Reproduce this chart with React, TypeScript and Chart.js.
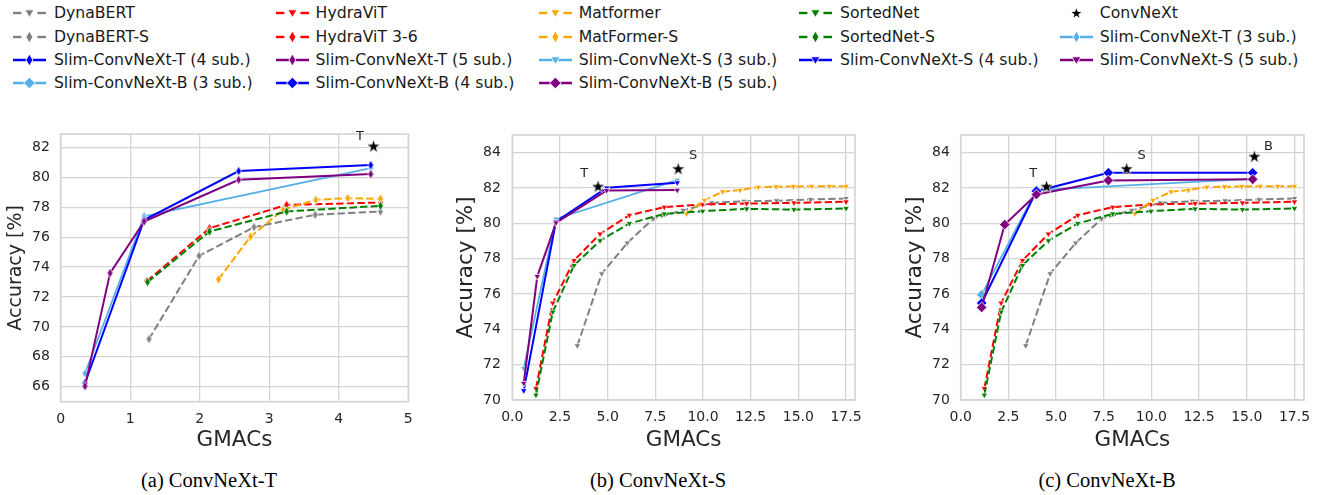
import React, { useEffect, useRef } from 'react';
import { Chart, registerables } from 'chart.js';

Chart.register(...registerables);
Chart.defaults.font.family = "'DejaVu Sans', sans-serif";

// ---------------- data: (a) ConvNeXt-T ----------------
const aDynaBertSX = [1.27, 1.99, 2.78, 3.66, 4.6];
const aDynaBertSY = [69.19, 74.75, 76.67, 77.5, 77.72];
const aHydra36X = [1.24, 2.14, 3.25, 4.6];
const aHydra36Y = [73.07, 76.6, 78.16, 78.32];
const aMatFormerSX = [2.27, 2.73, 3.2, 3.67, 4.13, 4.6];
const aMatFormerSY = [73.18, 76.04, 77.83, 78.5, 78.61, 78.57];
const aSortedSX = [1.25, 2.14, 3.25, 4.6];
const aSortedSY = [73.0, 76.38, 77.72, 78.1];
const aSlimT3X = [0.35, 1.2, 4.46];
const aSlimT3Y = [66.9, 77.4, 80.62];
const aSlimT4X = [0.35, 1.2, 2.56, 4.46];
const aSlimT4Y = [66.25, 77.15, 80.42, 80.82];
const aSlimT5X = [0.35, 0.71, 1.2, 2.56, 4.46];
const aSlimT5Y = [66.04, 73.6, 77.05, 79.84, 80.22];
const aStarX = [4.5];
const aStarY = [82.1];
const aStarLabels = ['T'];

// ---------------- data: baselines shared by (b) and (c) ----------------
const dynaX = [3.41, 4.69, 6.03, 7.39, 8.97, 10.46, 12.15, 13.86, 15.65, 17.5];
const dynaY = [73.08, 77.15, 78.89, 80.26, 80.74, 81.16, 81.25, 81.28, 81.35, 81.41];
const hydraX = [1.24, 2.12, 3.24, 4.6, 6.14, 7.97, 9.98, 12.29, 14.77, 17.5];
const hydraY = [70.66, 75.49, 77.9, 79.4, 80.46, 80.92, 81.07, 81.12, 81.16, 81.22];
const matX = [9.14, 10.07, 11.03, 11.94, 12.9, 13.83, 14.74, 15.7, 16.62, 17.5];
const matY = [80.54, 81.31, 81.79, 81.88, 82.05, 82.07, 82.09, 82.1, 82.1, 82.1];
const sortedX = [1.24, 2.12, 3.24, 4.6, 6.14, 7.97, 9.98, 12.29, 14.77, 17.5];
const sortedY = [70.28, 74.98, 77.62, 79.02, 79.99, 80.54, 80.69, 80.82, 80.78, 80.84];

// ---------------- data: (b) ConvNeXt-S ----------------
const bSlimS3X = [0.6, 2.29, 8.65];
const bSlimS3Y = [71.8, 80.25, 82.45];
const bSlimS4X = [0.6, 2.29, 4.95, 8.65];
const bSlimS4Y = [70.53, 80.1, 82.01, 82.3];
const bSlimS5X = [0.6, 1.31, 2.29, 4.95, 8.65];
const bSlimS5Y = [70.95, 77.0, 80.03, 81.86, 81.88];
const bStarX = [4.5, 8.7];
const bStarY = [82.1, 83.1];
const bStarLabels = ['T', 'S'];

// ---------------- data: (c) ConvNeXt-B ----------------
const cSlimB3X = [1.1, 3.97, 15.31];
const cSlimB3Y = [75.96, 81.88, 82.52];
const cSlimB4X = [1.1, 3.97, 7.74, 15.31];
const cSlimB4Y = [75.49, 81.82, 82.86, 82.86];
const cSlimB5X = [1.1, 2.31, 3.97, 7.74, 15.31];
const cSlimB5Y = [75.24, 79.93, 81.63, 82.43, 82.49];
const cStarX = [4.5, 8.7, 15.4];
const cStarY = [82.1, 83.1, 83.8];
const cStarLabels = ['T', 'S', 'B'];

// ---------------- styles ----------------
const GRID = '#d4d4d4';
const TXT = '#262626';
const COL = {
  gray: '#808080',
  red: '#ff0000',
  orange: '#ffa500',
  green: '#008000',
  light: '#56b0e8',
  blue: '#0000ff',
  purple: '#800080',
};

function makeThinDiamond(color: string) {
  const c = document.createElement('canvas');
  c.width = 9;
  c.height = 12;
  const g = c.getContext('2d')!;
  g.beginPath();
  g.moveTo(4.5, 1.2);
  g.lineTo(7.4, 6);
  g.lineTo(4.5, 10.8);
  g.lineTo(1.6, 6);
  g.closePath();
  g.fillStyle = color;
  g.fill();
  g.strokeStyle = '#ffffff';
  g.lineWidth = 0.8;
  g.stroke();
  return c;
}

function starPath(g: any, cx: number, cy: number, R: number) {
  const r = R * 0.39;
  g.beginPath();
  for (let i = 0; i < 10; i++) {
    const ang = -Math.PI / 2 + (i * Math.PI) / 5;
    const rad = i % 2 === 0 ? R : r;
    const px = cx + Math.cos(ang) * rad;
    const py = cy + Math.sin(ang) * rad;
    if (i === 0) g.moveTo(px, py);
    else g.lineTo(px, py);
  }
  g.closePath();
}

function makeStar(R: number) {
  const c = document.createElement('canvas');
  const s = Math.ceil(2 * R + 4);
  c.width = s;
  c.height = s;
  const g = c.getContext('2d')!;
  starPath(g, s / 2, s / 2 + 0.6, R);
  g.fillStyle = '#000000';
  g.fill();
  g.strokeStyle = '#ffffff';
  g.lineWidth = 0.8;
  g.stroke();
  return c;
}

function series(label: string, xs: number[], ys: number[], color: string, marker: string, dashed: boolean, lw: number) {
  const d: any = {
    label,
    data: xs.map((x, i) => ({ x, y: ys[i] })),
    showLine: marker !== '*',
    borderColor: color,
    backgroundColor: color,
    borderWidth: lw,
    borderDash: dashed ? [7.4, 3.2] : [],
    pointBackgroundColor: color,
    pointBorderColor: '#ffffff',
    pointBorderWidth: 0.8,
  };
  if (marker === 'v') {
    d.pointStyle = 'triangle';
    d.pointRotation = 180;
    d.pointRadius = 3.8;
  } else if (marker === 'D') {
    d.pointStyle = 'rectRot';
    d.pointRadius = 5.3;
  } else if (marker === 'd') {
    d.pointStyle = makeThinDiamond(color);
    d.pointRadius = 4;
  } else if (marker === '*') {
    d.pointStyle = makeStar(7.2);
    d.pointRadius = 7;
    d.borderWidth = 0;
  }
  return d;
}

function buildDatasets(key: string) {
  let list: any[] = [];
  if (key === 'a') {
    list = [
      series('DynaBERT-S', aDynaBertSX, aDynaBertSY, COL.gray, 'd', true, 2),
      series('HydraViT 3-6', aHydra36X, aHydra36Y, COL.red, 'd', true, 2),
      series('MatFormer-S', aMatFormerSX, aMatFormerSY, COL.orange, 'd', true, 2),
      series('SortedNet-S', aSortedSX, aSortedSY, COL.green, 'd', true, 2),
      series('Slim-ConvNeXt-T (3 sub.)', aSlimT3X, aSlimT3Y, COL.light, 'd', false, 1.8),
      series('Slim-ConvNeXt-T (4 sub.)', aSlimT4X, aSlimT4Y, COL.blue, 'd', false, 2),
      series('Slim-ConvNeXt-T (5 sub.)', aSlimT5X, aSlimT5Y, COL.purple, 'd', false, 2),
      series('ConvNeXt', aStarX, aStarY, '#000000', '*', false, 0),
    ];
  } else {
    list = [
      series('DynaBERT', dynaX, dynaY, COL.gray, 'v', true, 2),
      series('HydraViT', hydraX, hydraY, COL.red, 'v', true, 2),
      series('Matformer', matX, matY, COL.orange, 'v', true, 2),
      series('SortedNet', sortedX, sortedY, COL.green, 'v', true, 2),
    ];
    if (key === 'b') {
      list.push(
        series('Slim-ConvNeXt-S (3 sub.)', bSlimS3X, bSlimS3Y, COL.light, 'v', false, 1.8),
        series('Slim-ConvNeXt-S (4 sub.)', bSlimS4X, bSlimS4Y, COL.blue, 'v', false, 2),
        series('Slim-ConvNeXt-S (5 sub.)', bSlimS5X, bSlimS5Y, COL.purple, 'v', false, 2),
        series('ConvNeXt', bStarX, bStarY, '#000000', '*', false, 0),
      );
    } else {
      list.push(
        series('Slim-ConvNeXt-B (3 sub.)', cSlimB3X, cSlimB3Y, COL.light, 'D', false, 1.8),
        series('Slim-ConvNeXt-B (4 sub.)', cSlimB4X, cSlimB4Y, COL.blue, 'D', false, 2),
        series('Slim-ConvNeXt-B (5 sub.)', cSlimB5X, cSlimB5Y, COL.purple, 'D', false, 2),
        series('ConvNeXt', cStarX, cStarY, '#000000', '*', false, 0),
      );
    }
  }
  list.forEach((d, i) => (d.order = -i));
  return list;
}

const PANELS: any[] = [
  {
    key: 'a', left: 0, top: 120, W: 430, H: 345,
    area: { left: 60.7, right: 408.3, top: 14, bottom: 281.7 },
    xMin: 0, xMax: 5, xStep: 1, xDec: 0, yMin: 65.0, yMax: 82.9,
    yTitleSize: 19, yTitlePad: 4.6, yTickPad: 10.8, xTickPad: 8.9,
    starX: aStarX, starY: aStarY, starLabels: aStarLabels,
    labelOffsets: [[-13.5, -9.5]],
    caption: '(a) ConvNeXt-T', capX: 209,
  },
  {
    key: 'b', left: 440, top: 120, W: 440, H: 345,
    area: { left: 72.3, right: 415, top: 15, bottom: 280 },
    xMin: 0, xMax: 17.97, xStep: 2.5, xDec: 1, yMin: 70, yMax: 85,
    yTitleSize: 21.5, yTitlePad: 13.8, yTickPad: 11.5, xTickPad: 9.4,
    starX: bStarX, starY: bStarY, starLabels: bStarLabels,
    labelOffsets: [[-14, -12.7], [15, -13]],
    caption: '(b) ConvNeXt-S', capX: 658,
  },
  {
    key: 'c', left: 880, top: 120, W: 443, H: 345,
    area: { left: 80.7, right: 424, top: 15, bottom: 280 },
    xMin: 0, xMax: 18.0, xStep: 2.5, xDec: 1, yMin: 70, yMax: 85,
    yTitleSize: 21.5, yTitlePad: 22.9, yTickPad: 10.8, xTickPad: 9.4,
    starX: cStarX, starY: cStarY, starLabels: cStarLabels,
    labelOffsets: [[-13.4, -12.7], [15, -13], [14, -10]],
    caption: '(c) ConvNeXt-B', capX: 1107,
  },
];

function buildConfig(p: any): any {
  const framePlugin = {
    id: 'frame' + p.key,
    beforeDatasetsDraw(chart: any) {
      const { ctx, chartArea: a } = chart;
      ctx.save();
      ctx.strokeStyle = GRID;
      ctx.lineWidth = 1.6;
      ctx.strokeRect(a.left, a.top, a.right - a.left, a.bottom - a.top);
      ctx.restore();
    },
  };
  const starLabelPlugin = {
    id: 'starLabels' + p.key,
    afterDatasetsDraw(chart: any) {
      const { ctx } = chart;
      const xs = chart.scales.x;
      const ys = chart.scales.y;
      ctx.save();
      ctx.fillStyle = TXT;
      ctx.font = "13px 'DejaVu Sans'";
      ctx.textAlign = 'center';
      ctx.textBaseline = 'middle';
      p.starLabels.forEach((t: string, i: number) => {
        const px = xs.getPixelForValue(p.starX[i]) + p.labelOffsets[i][0];
        const py = ys.getPixelForValue(p.starY[i]) + p.labelOffsets[i][1];
        ctx.fillText(t, px, py);
      });
      ctx.restore();
    },
  };
  return {
    type: 'scatter',
    data: { datasets: buildDatasets(p.key) },
    options: {
      animation: false,
      responsive: false,
      devicePixelRatio: 1,
      events: [],
      layout: {
        autoPadding: false,
        padding: { left: 0, top: p.area.top, right: p.W - p.area.right, bottom: 0 },
      },
      plugins: { legend: { display: false }, tooltip: { enabled: false } },
      scales: {
        x: {
          type: 'linear',
          min: p.xMin,
          max: p.xMax,
          afterFit: (s: any) => {
            s.height = p.H - p.area.bottom;
            s.paddingLeft = 0;
            s.paddingRight = 0;
          },
          grid: { color: GRID, lineWidth: 1.3, drawTicks: false },
          border: { display: false },
          ticks: {
            stepSize: p.xStep,
            includeBounds: false,
            autoSkip: false,
            maxRotation: 0,
            padding: p.xTickPad,
            color: TXT,
            font: { size: 14 },
            callback: (v: any) => Number(v).toFixed(p.xDec),
          },
          title: {
            display: true,
            text: 'GMACs',
            color: TXT,
            font: { size: 21.5 },
            padding: { top: 0, bottom: 12.1 },
          },
        },
        y: {
          type: 'linear',
          min: p.yMin,
          max: p.yMax,
          afterFit: (s: any) => {
            s.width = p.area.left;
            s.paddingTop = 0;
            s.paddingBottom = 0;
          },
          grid: { color: GRID, lineWidth: 1.3, drawTicks: false },
          border: { display: false },
          ticks: {
            stepSize: 2,
            includeBounds: false,
            autoSkip: false,
            padding: p.yTickPad,
            color: TXT,
            font: { size: 14 },
            callback: (v: any) => String(Math.round(Number(v))),
          },
          title: {
            display: true,
            text: 'Accuracy [%]',
            color: TXT,
            font: { size: p.yTitleSize },
            padding: { top: p.yTitlePad, bottom: 0 },
          },
        },
      },
    },
    plugins: [framePlugin, starLabelPlugin],
  };
}

function Panel({ p }: { p: any }) {
  const ref = useRef<HTMLCanvasElement>(null);
  useEffect(() => {
    const chart = new Chart(ref.current as HTMLCanvasElement, buildConfig(p));
    return () => chart.destroy();
  }, []);
  return (
    <canvas
      ref={ref}
      width={p.W}
      height={p.H}
      style={{ position: 'absolute', left: p.left, top: p.top, width: p.W, height: p.H }}
    />
  );
}

// ---------------- legend ----------------
const LEGEND_GLYPH_X = [12.6, 275.7, 538.7, 799, 1059.5];
const LEGEND_TEXT_X = [53.9, 315.6, 578.7, 840, 1099.8];
const LEGEND_ROWS = [13.3, 36.7, 60.3, 83.3];
const LEGEND_ITEMS: any[] = [
  { label: 'DynaBERT', color: COL.gray, dashed: true, marker: 'v', col: 0, row: 0 },
  { label: 'DynaBERT-S', color: COL.gray, dashed: true, marker: 'd', col: 0, row: 1 },
  { label: 'Slim-ConvNeXt-T (4 sub.)', color: COL.blue, dashed: false, marker: 'd', col: 0, row: 2 },
  { label: 'Slim-ConvNeXt-B (3 sub.)', color: COL.light, dashed: false, marker: 'D', col: 0, row: 3 },
  { label: 'HydraViT', color: COL.red, dashed: true, marker: 'v', col: 1, row: 0 },
  { label: 'HydraViT 3-6', color: COL.red, dashed: true, marker: 'd', col: 1, row: 1 },
  { label: 'Slim-ConvNeXt-T (5 sub.)', color: COL.purple, dashed: false, marker: 'd', col: 1, row: 2 },
  { label: 'Slim-ConvNeXt-B (4 sub.)', color: COL.blue, dashed: false, marker: 'D', col: 1, row: 3 },
  { label: 'Matformer', color: COL.orange, dashed: true, marker: 'v', col: 2, row: 0 },
  { label: 'MatFormer-S', color: COL.orange, dashed: true, marker: 'd', col: 2, row: 1 },
  { label: 'Slim-ConvNeXt-S (3 sub.)', color: COL.light, dashed: false, marker: 'v', col: 2, row: 2 },
  { label: 'Slim-ConvNeXt-B (5 sub.)', color: COL.purple, dashed: false, marker: 'D', col: 2, row: 3 },
  { label: 'SortedNet', color: COL.green, dashed: true, marker: 'v', col: 3, row: 0 },
  { label: 'SortedNet-S', color: COL.green, dashed: true, marker: 'd', col: 3, row: 1 },
  { label: 'Slim-ConvNeXt-S (4 sub.)', color: COL.blue, dashed: false, marker: 'v', col: 3, row: 2 },
  { label: 'ConvNeXt', color: '#000000', dashed: false, marker: '*', col: 4, row: 0 },
  { label: 'Slim-ConvNeXt-T (3 sub.)', color: COL.light, dashed: false, marker: 'd', col: 4, row: 1 },
  { label: 'Slim-ConvNeXt-S (5 sub.)', color: COL.purple, dashed: false, marker: 'v', col: 4, row: 2 },
];

function starPoints(cx: number, cy: number, R: number) {
  const r = R * 0.39;
  const pts: string[] = [];
  for (let i = 0; i < 10; i++) {
    const ang = -Math.PI / 2 + (i * Math.PI) / 5;
    const rad = i % 2 === 0 ? R : r;
    pts.push(`${(cx + Math.cos(ang) * rad).toFixed(2)},${(cy + Math.sin(ang) * rad).toFixed(2)}`);
  }
  return pts.join(' ');
}

function Glyph({ item }: { item: any }) {
  const W = 33;
  const cx = 16.4;
  const cy = 9;
  let marker: any = null;
  if (item.marker === 'v') {
    marker = <polygon points={`${cx - 4.6},${cy - 3.2} ${cx + 4.6},${cy - 3.2} ${cx},${cy + 4.4}`} fill={item.color} stroke="#fff" strokeWidth={0.9} />;
  } else if (item.marker === 'd') {
    marker = <polygon points={`${cx},${cy - 6} ${cx + 3.5},${cy} ${cx},${cy + 6} ${cx - 3.5},${cy}`} fill={item.color} stroke="#fff" strokeWidth={0.9} />;
  } else if (item.marker === 'D') {
    marker = <polygon points={`${cx},${cy - 5.8} ${cx + 5.8},${cy} ${cx},${cy + 5.8} ${cx - 5.8},${cy}`} fill={item.color} stroke="#fff" strokeWidth={0.9} />;
  } else {
    marker = <polygon points={starPoints(cx, cy + 0.5, 5.2)} fill="#000" />;
  }
  let lines: any = null;
  if (item.marker !== '*') {
    lines = item.dashed ? (
      <>
        <line x1={0} y1={cy} x2={8.4} y2={cy} stroke={item.color} strokeWidth={2.4} />
        <line x1={24.4} y1={cy} x2={W} y2={cy} stroke={item.color} strokeWidth={2.4} />
      </>
    ) : (
      <line x1={0} y1={cy} x2={W} y2={cy} stroke={item.color} strokeWidth={2.4} />
    );
  }
  return (
    <svg
      width={W}
      height={18}
      style={{ position: 'absolute', left: LEGEND_GLYPH_X[item.col], top: LEGEND_ROWS[item.row] - 9 }}
    >
      {lines}
      {marker}
    </svg>
  );
}

function Legend() {
  return (
    <>
      {LEGEND_ITEMS.map((it) => (
        <React.Fragment key={it.label}>
          <Glyph item={it} />
          <div
            style={{
              position: 'absolute',
              left: LEGEND_TEXT_X[it.col],
              top: LEGEND_ROWS[it.row] - 10,
              height: 20,
              lineHeight: '20px',
              fontFamily: "'DejaVu Sans', sans-serif",
              fontSize: 15.7,
              color: '#1a1a1a',
              whiteSpace: 'nowrap',
            }}
          >
            {it.label}
          </div>
        </React.Fragment>
      ))}
    </>
  );
}

export default function App() {
  return (
    <div
      style={{
        position: 'absolute',
        left: 0,
        top: 0,
        width: 1323,
        height: 495,
        background: '#ffffff',
        overflow: 'hidden',
      }}
    >
      <Legend />
      {PANELS.map((p) => (
        <Panel key={p.key} p={p} />
      ))}
      {PANELS.map((p) => (
        <div
          key={'cap' + p.key}
          style={{
            position: 'absolute',
            left: p.capX - 150,
            width: 300,
            top: 468,
            height: 24,
            lineHeight: '24px',
            textAlign: 'center',
            fontFamily: "'Liberation Serif', 'Times New Roman', serif",
            fontSize: 20.5,
            color: '#000',
          }}
        >
          {p.caption}
        </div>
      ))}
    </div>
  );
}
